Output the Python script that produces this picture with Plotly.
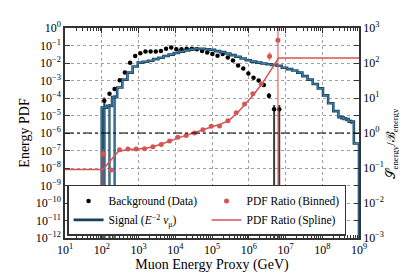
import numpy as np
import plotly.graph_objects as go

# ---------------- data ----------------
# fine binning (log10 E/GeV) used by background data and signal MC
fine_lo, fine_w, fine_n = 2.0, 0.14, 50
# coarse binning used by the binned PDF ratio
coarse_lo, coarse_w = 1.01, 0.2268
ratio_first_bin = 4

# Background (data): log10 of energy PDF per fine bin
bkg_log10 = [-4.15, -3.76, -3.48, -2.99, -2.54, -1.99, -1.60, -1.44, -1.34, -1.34,
             -1.34, -1.31, -1.18, -1.12, -1.22, -1.22, -1.18, -1.18, -1.22, -1.31,
             -1.40, -1.49, -1.59, -1.49, -1.68, -1.86, -2.14, -2.32, -2.60, -2.85,
             -3.00, -3.26, -3.87, -4.65, -4.65]
# relative error bars (1.0 on the low side = reaches zero)
bkg_err_lo = [1.0] + [0.0] * 31 + [0.3, 1.0, 1.0]
bkg_err_hi = [0.5] + [0.0] * 31 + [0.4, 0.8, 0.8]

# Signal (E^-2 nu_mu): log10 of energy PDF per fine bin
sig_log10 = [-4.55, -4.45, -3.95, -3.40, -2.95, -2.55, -2.20, -1.98, -1.93, -1.87,
             -1.78, -1.70, -1.60, -1.52, -1.43, -1.35, -1.28, -1.22, -1.19, -1.19,
             -1.21, -1.25, -1.32, -1.38, -1.46, -1.55, -1.64, -1.74, -1.84, -1.92,
             -1.98, -2.03, -2.07, -2.11, -2.16, -2.27, -2.35, -2.43, -2.55, -2.75,
             -2.95, -3.20, -3.45, -3.85, -4.30, -4.75, -5.10, -5.20, -5.35, -6.60]
sig_err_lo = [1.0, 1.0, 1.0] + [0.0] * 43 + [0.25, 0.25, 0.25, 0.0]
sig_err_hi = [0.3, 0.3, 0.3] + [0.0] * 43 + [0.3, 0.3, 0.3, 0.0]

# PDF ratio (binned): log10 of S/B per coarse bin (bins 4..25)
ratio_log10 = [-0.60, -1.06, -0.48, -0.46, -0.46, -0.45, -0.39, -0.33, -0.23, -0.12,
               -0.07, 0.00, 0.09, 0.19, 0.20, 0.35, 0.58, 0.83, 1.12, 1.40,
               2.19, 2.65]
ratio_err_lo = [1.0, 0.1] + [0.0] * 18 + [0.24, 1.0]
ratio_err_hi = [0.38, 0.1] + [0.0] * 18 + [0.32, 9.0]

# PDF ratio (spline): knots (log10 E, log10 S/B)
spline_logE = [1.0, 2.03, 2.45, 2.71, 2.94, 3.17, 3.40, 3.63, 3.86, 4.09, 4.31,
               4.54, 4.77, 5.00, 5.23, 5.46, 5.69, 5.91, 6.14, 6.37, 6.59, 6.81, 9.0]
spline_log10 = [-1.04, -1.04, -0.53, -0.47, -0.46, -0.44, -0.39, -0.32, -0.23, -0.14,
                -0.06, 0.02, 0.10, 0.18, 0.25, 0.36, 0.57, 0.83, 1.11, 1.42, 1.78,
                2.14, 2.14]

unity_ratio = 1.0

x_ticks_exp = list(range(1, 10))
yl_ticks_exp = list(range(-12, 1))
yr_ticks_exp = list(range(-3, 4))

# ---------------- derived arrays ----------------
fine_edges = 10 ** (fine_lo + fine_w * np.arange(fine_n + 1))
fine_cent = 10 ** (fine_lo + fine_w * (np.arange(fine_n) + 0.5))

bkg = 10 ** np.array(bkg_log10)
bkg_x = fine_cent[:len(bkg)]
sig = 10 ** np.array(sig_log10)
ratio = 10 ** np.array(ratio_log10)
ratio_x = 10 ** (coarse_lo + coarse_w * (np.arange(ratio_first_bin, ratio_first_bin + len(ratio)) + 0.5))

FLOOR = 1e-30
step_x = np.concatenate([[fine_edges[0]], fine_edges[:-1], [fine_edges[-1]], [fine_edges[-1]]])
step_y = np.concatenate([[FLOOR], sig, [sig[-1]], [FLOOR]])

def fmt(e):
    return "10<sup>%s</sup>" % (str(e) if e >= 0 else "\u2212" + str(-e))

FONT = "Liberation Serif"
DARK = "#333333"
SIG_DARK = "#17435f"
SIG_LIGHT = "#4a8bb5"
RED = "#d65454"
RED_ERR = "rgba(214,84,84,0.55)"

fig = go.Figure()

# background data
fig.add_trace(go.Scatter(
    x=bkg_x, y=bkg, mode="markers", name="Background (Data)",
    marker=dict(color="black", size=4.5),
    error_y=dict(type="data", symmetric=False, array=bkg * np.array(bkg_err_hi),
                 arrayminus=bkg * np.array(bkg_err_lo), color="#3c3c3c",
                 thickness=2, width=0),
    legendrank=1))

# signal error bars (outlined)
for col, th in ((SIG_DARK, 2.2), (SIG_LIGHT, 0.7)):
    fig.add_trace(go.Scatter(
        x=fine_cent, y=sig, mode="markers", showlegend=False, hoverinfo="skip",
        marker=dict(color="rgba(0,0,0,0)", size=1),
        error_y=dict(type="data", symmetric=False, array=sig * np.array(sig_err_hi),
                     arrayminus=sig * np.array(sig_err_lo), color=col,
                     thickness=th, width=0)))

# signal step histogram (outlined line)
fig.add_trace(go.Scatter(
    x=step_x, y=step_y, mode="lines", line=dict(color=SIG_DARK, width=2.6, shape="hv"),
    name="Signal (<i>E</i><sup>\u22122</sup> <i>\u03bd</i><sub>\u03bc</sub>)", legendrank=3))
fig.add_trace(go.Scatter(
    x=step_x, y=step_y, mode="lines", line=dict(color=SIG_LIGHT, width=0.9, shape="hv"),
    showlegend=False, hoverinfo="skip"))

# spline ratio
fig.add_trace(go.Scatter(
    x=10 ** np.array(spline_logE), y=10 ** np.array(spline_log10), mode="lines",
    line=dict(color=RED, width=1.5), name="PDF Ratio (Spline)", yaxis="y2",
    legendrank=4))

# binned ratio
fig.add_trace(go.Scatter(
    x=ratio_x, y=ratio, mode="markers", name="PDF Ratio (Binned)", yaxis="y2",
    marker=dict(color=RED, size=5),
    error_y=dict(type="data", symmetric=False, array=ratio * np.array(ratio_err_hi),
                 arrayminus=ratio * np.array(ratio_err_lo), color=RED_ERR,
                 thickness=2, width=0),
    legendrank=2))

fig.add_shape(type="line", xref="paper", x0=0, x1=1, yref="y2", y0=unity_ratio,
              y1=unity_ratio, line=dict(color="black", width=1.2, dash="dashdot"))

# right-hand axis label
fig.add_annotation(text="\U0001d4ae<sub>energy</sub>/\u212c<sub>energy</sub>",
                   xref="paper", yref="paper", x=1.112, y=0.45, xanchor="center",
                   yanchor="middle", textangle=-90, showarrow=False,
                   font=dict(size=12.5, family=FONT))

axis_common = dict(showline=True, linecolor=DARK, linewidth=1.5, ticks="inside",
                   tickcolor=DARK, tickwidth=1, zeroline=False,
                   tickfont=dict(size=12))

fig.update_layout(
    width=407, height=275,
    margin=dict(l=57, r=56, t=13, b=45),
    paper_bgcolor="white", plot_bgcolor="white",
    font=dict(family=FONT, size=13, color="black"),
    xaxis=dict(type="log", range=[1, 9], tickvals=[10 ** e for e in x_ticks_exp],
               ticktext=[fmt(e) for e in x_ticks_exp], ticklen=5, mirror="ticks",
               showgrid=True, gridcolor="#a0a0a0", griddash="dot", gridwidth=1,
               minor=dict(ticks="inside", ticklen=3, tickcolor=DARK, dtick="D1", showgrid=False),
               title=dict(text="Muon Energy Proxy (GeV)", standoff=0, font=dict(size=14)),
               **axis_common),
    yaxis=dict(type="log", range=[-12, 0], tickvals=[10 ** e for e in yl_ticks_exp],
               ticktext=[fmt(e) for e in yl_ticks_exp], ticklen=5, mirror="ticks",
               showgrid=True, gridcolor="#a0a0a0", griddash="dot", gridwidth=1,
               title=dict(text="Energy PDF", standoff=3, font=dict(size=14)),
               **axis_common),
    yaxis2=dict(type="log", range=[-3, 3], overlaying="y", side="right",
                tickvals=[10 ** e for e in yr_ticks_exp],
                ticktext=[fmt(e) for e in yr_ticks_exp], ticklen=5, showgrid=False,
                **axis_common),
    legend=dict(orientation="h", x=0.007, y=0.01, xanchor="left", yanchor="bottom",
                bgcolor="white", bordercolor=DARK, borderwidth=1.5,
                font=dict(size=11.5), entrywidth=93, tracegroupgap=0, itemwidth=30),
)

fig.write_html("out.html")
